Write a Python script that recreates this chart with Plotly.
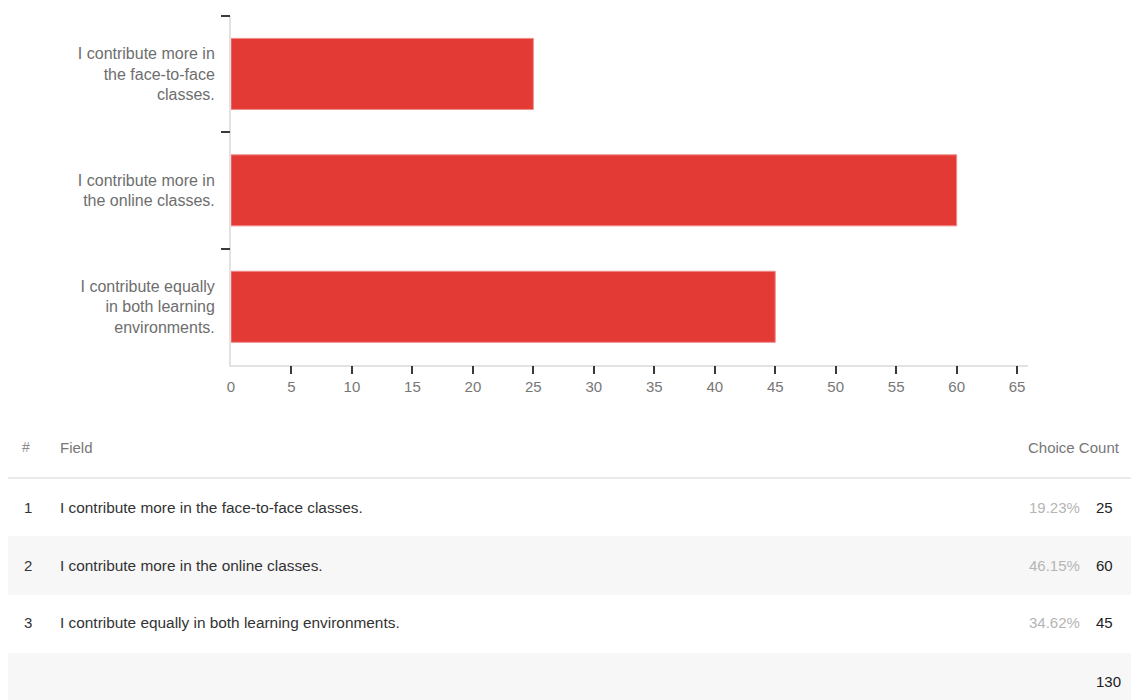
import plotly.graph_objects as go

# ---- data ----
categories = [
    "I contribute more in<br>the face-to-face<br>classes.",
    "I contribute more in<br>the online classes.",
    "I contribute equally<br>in both learning<br>environments.",
]
fields = [
    "I contribute more in the face-to-face classes.",
    "I contribute more in the online classes.",
    "I contribute equally in both learning environments.",
]
counts = [25, 60, 45]
x_ticks = [0, 5, 10, 15, 20, 25, 30, 35, 40, 45, 50, 55, 60, 65]

W, H = 1131, 700
FONT = "Liberation Sans"
total = sum(counts)
pcts = [f"{c / total * 100:.2f}%" for c in counts]


def px(x):
    # screen x -> paper fraction
    return max(0.0, min(1.0, (x - 4) / 1127))


def py(y):
    return 1 - y / H


fig = go.Figure()
fig.add_trace(go.Bar(
    x=counts, y=categories, orientation="h",
    marker=dict(color="#e43a36", line=dict(color="#f08a87", width=1)),
    width=0.61, hoverinfo="skip", showlegend=False,
))
# invisible helper trace so the overlay axes get drawn
fig.add_trace(go.Scatter(x=[None], y=[None], xaxis="x2", yaxis="y2",
                         showlegend=False, hoverinfo="skip"))

x_dom = [px(231), px(1028)]
y_dom = [py(365), py(15.7)]
xr = [0, 65.9]

fig.update_layout(
    width=W, height=H,
    margin=dict(l=0, r=0, t=0, b=0),
    paper_bgcolor="white", plot_bgcolor="white",
    font=dict(family=FONT, color="#6e6e6e"),
    xaxis=dict(
        domain=x_dom, range=xr, anchor="y",
        tickvals=x_ticks, ticktext=[str(v) for v in x_ticks],
        ticks="", ticklabelstandoff=7,
        tickfont=dict(size=15, color="#777777", family=FONT),
        showgrid=False, zeroline=False,
        showline=True, linecolor="#e2e2e2", linewidth=2,
        fixedrange=True,
    ),
    xaxis2=dict(
        domain=x_dom, range=xr, overlaying="x", anchor="y", side="bottom",
        tickvals=x_ticks[1:], ticks="outside", ticklen=8, tickwidth=2,
        tickcolor="#3a3a3a", showticklabels=False,
        showgrid=False, zeroline=False, showline=False,
    ),
    yaxis=dict(
        domain=y_dom, type="category", categoryarray=categories,
        range=[2.5, -0.5], anchor="x",
        ticks="", ticklabelstandoff=11,
        tickfont=dict(size=16, color="#6e6e6e", family=FONT),
        showgrid=False, zeroline=False,
        showline=True, linecolor="#e2e2e2", linewidth=2,
    ),
    yaxis2=dict(
        domain=y_dom, range=[2.5, -0.5], overlaying="y", anchor="x", side="left",
        tickvals=[-0.5, 0.5, 1.5], ticks="outside", ticklen=9, tickwidth=2,
        tickcolor="#3a3a3a", showticklabels=False,
        showgrid=False, zeroline=False, showline=False,
    ),
)

shapes = []
annotations = []

# header separator
shapes.append(dict(type="line", xref="paper", yref="paper",
                   x0=px(8), x1=1, y0=py(478), y1=py(478),
                   line=dict(color="#ebebeb", width=2)))
# shaded rows
for (y0, y1) in [(536, 595), (653, 700)]:
    shapes.append(dict(type="rect", xref="paper", yref="paper",
                       x0=px(8), x1=1, y0=py(y1), y1=py(y0),
                       fillcolor="#f7f7f7", line=dict(width=0), layer="below"))


def ann(text, x, y, anchor, color, size=15):
    xx = x - 2 if anchor == "left" else x + 2
    annotations.append(dict(text=text, xref="paper", yref="paper",
                            x=px(xx), y=py(y), xanchor=anchor, yanchor="middle",
                            showarrow=False,
                            font=dict(family=FONT, size=size, color=color)))


ann("#", 22, 447, "left", "#8a8a8a", 14)
ann("Field", 60, 447, "left", "#777777")
ann("Choice Count", 1120, 447, "right", "#777777")

row_y = [507, 565, 622]
for i, (f, c, p) in enumerate(zip(fields, counts, pcts)):
    ann(str(i + 1), 24, row_y[i], "left", "#333333")
    ann(f, 60, row_y[i], "left", "#333333", 15.4)
    ann(p, 1080, row_y[i], "right", "#b5b5b5")
    ann(str(c), 1096, row_y[i], "left", "#222222")

ann(str(total), 1096, 681, "left", "#222222")

fig.update_layout(shapes=shapes, annotations=annotations)

fig.write_html("out.html")
